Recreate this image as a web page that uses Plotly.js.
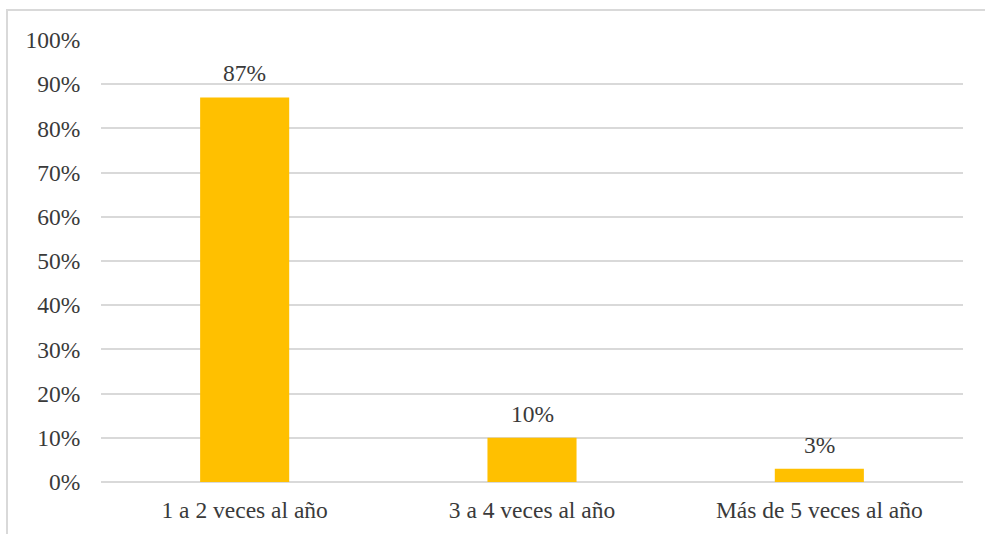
<!DOCTYPE html>
<html>
<head>
<meta charset="utf-8">
<script src="https://cdn.plot.ly/plotly-3.0.1.min.js"></script>
<style>
html,body{margin:0;padding:0;background:#fff;}
#chart{width:985px;height:534px;}
</style>
</head>
<body>
<div id="chart"></div>
<script>
const categories = ["1 a 2 veces al año", "3 a 4 veces al año", "Más de 5 veces al año"];
const values = [0.87, 0.10, 0.03];
const labels = ["87%", "10%", "3%"];
const yTicks = [0, 0.1, 0.2, 0.3, 0.4, 0.5, 0.6, 0.7, 0.8, 0.9, 1.0];

const font = {family: "Liberation Serif", size: 23.5, color: "#3a3a3a"};

const trace = {
  type: "bar",
  x: categories,
  y: values,
  marker: {color: "#FFC000"},
  width: 0.31,
  hoverinfo: "skip"
};

const annotations = categories.map((c, i) => ({
  x: c, y: values[i], xref: "x", yref: "y",
  text: labels[i], showarrow: false,
  yanchor: "bottom", yshift: 9,
  font: font
}));

const layout = {
  width: 985,
  height: 534,
  margin: {l: 101, r: 22, t: 40, b: 52},
  paper_bgcolor: "#fff",
  plot_bgcolor: "#fff",
  font: font,
  showlegend: false,
  annotations: annotations,
  xaxis: {
    type: "category",
    showgrid: false,
    showline: false,
    zeroline: false,
    ticks: "outside",
    ticklen: 7,
    tickcolor: "rgba(0,0,0,0)",
    tickfont: font
  },
  yaxis: {
    range: [0, 1],
    tickvals: yTicks,
    tickformat: ".0%",
    showgrid: true,
    gridcolor: "#d9d9d9",
    gridwidth: 2,
    zeroline: true,
    zerolinecolor: "#d9d9d9",
    zerolinewidth: 2,
    showline: false,
    ticks: "outside",
    ticklen: 15,
    tickcolor: "rgba(0,0,0,0)",
    tickfont: font,
    fixedrange: true
  },
  shapes: [{
    type: "rect",
    xref: "paper", yref: "paper",
    x0: (7 - 101) / 862, x1: 1.2,
    y0: -0.3, y1: 1 + 30 / 442,
    line: {color: "#d9d9d9", width: 2},
    fillcolor: "rgba(0,0,0,0)",
    layer: "below"
  }]
};

Plotly.newPlot("chart", [trace], layout, {displayModeBar: false, staticPlot: true});
</script>
</body>
</html>
